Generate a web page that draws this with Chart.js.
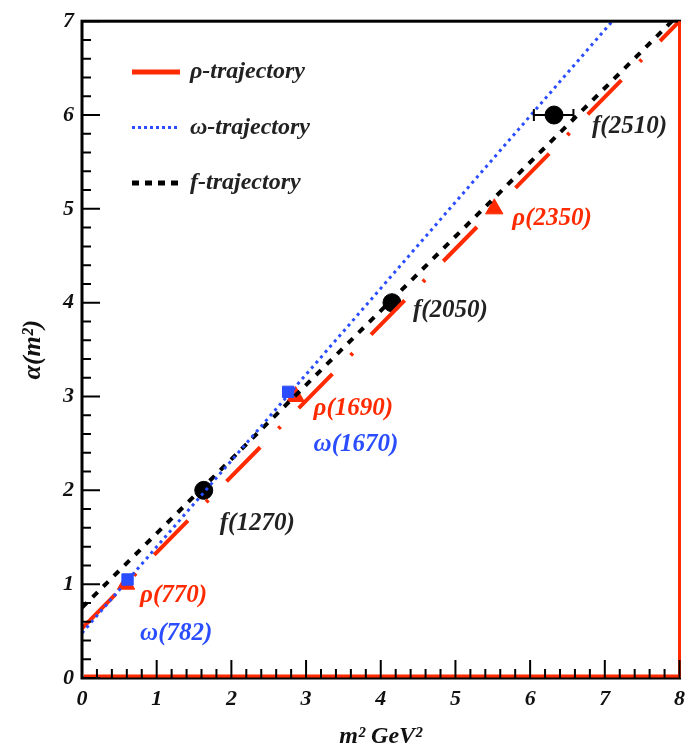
<!DOCTYPE html>
<html>
<head>
<meta charset="utf-8">
<script src="https://cdn.jsdelivr.net/npm/chart.js@4"></script>
<style>
  html,body{margin:0;padding:0;background:#fff;}
  #wrap{width:693px;height:753px;position:relative;}
</style>
</head>
<body>
<div id="wrap"><canvas id="regge" width="693" height="753"></canvas></div>
<script>
// Regge trajectories: alpha(m^2) vs m^2
const xTicks = [0,1,2,3,4,5,6,7,8];
const yTicks = [0,1,2,3,4,5,6,7];

// trajectory lines (end points)
const rhoLineX = [0, 8];
const rhoLineY = [0.53, 7.0];
const omegaLineX = [0, 7.1];
const omegaLineY = [0.48, 7.0];
const fLineX = [0, 7.9];
const fLineY = [0.75, 7.0];

// resonances
const rhoNames = ['ρ(770)', 'ρ(1690)', 'ρ(2350)'];
const rhoM2 = [0.59, 2.86, 5.52];
const rhoAlpha = [1, 3, 5];

const omegaNames = ['ω(782)', 'ω(1670)'];
const omegaM2 = [0.61, 2.76];
const omegaAlpha = [1.05, 3.05];

const fNames = ['f(1270)', 'f(2050)', 'f(2510)'];
const fM2 = [1.63, 4.15, 6.32];
const fAlpha = [2, 4, 6];
const fErrLo = [1.63, 4.15, 6.05];
const fErrHi = [1.63, 4.15, 6.58];

const legendLabels = ['ρ-trajectory', 'ω-trajectory', 'f-trajectory'];

const RED = '#ff2a00', BLUE = '#2a4dff', BLACK = '#000';
const serif = '"Liberation Serif", "DejaVu Serif", serif';

function pts(xs, ys){ return xs.map((x,i)=>({x:x, y:ys[i]})); }

// label offsets (pixels) from each marker
const labelPos = [
  {x:0.59, y:1, dx:14, dy:11, t:rhoNames[0], c:RED},
  {x:0.59, y:1, dx:14, dy:49, t:omegaNames[0], c:BLUE},
  {x:1.63, y:2, dx:16, dy:33, t:fNames[0], c:'#222'},
  {x:2.86, y:3, dx:18, dy:12, t:rhoNames[1], c:RED},
  {x:2.86, y:3, dx:18, dy:48, t:omegaNames[1], c:BLUE},
  {x:4.15, y:4, dx:21, dy:8, t:fNames[1], c:'#222'},
  {x:5.52, y:5, dx:18, dy:10, t:rhoNames[2], c:RED},
  {x:6.32, y:6, dx:38, dy:12, t:fNames[2], c:'#222'}
];

const framePlugin = {
  id:'frame',
  afterDatasetsDraw(chart){
    const {ctx, chartArea:a, scales:{x, y}} = chart;
    ctx.save();
    // error bars on f points
    ctx.strokeStyle = '#000'; ctx.lineWidth = 2;
    fM2.forEach((m,i)=>{
      if(fErrHi[i] - fErrLo[i] <= 0) return;
      const py = y.getPixelForValue(fAlpha[i]);
      const x0 = x.getPixelForValue(fErrLo[i]), x1 = x.getPixelForValue(fErrHi[i]);
      ctx.beginPath(); ctx.moveTo(x0, py); ctx.lineTo(x1, py);
      ctx.moveTo(x0, py-6); ctx.lineTo(x0, py+6);
      ctx.moveTo(x1, py-6); ctx.lineTo(x1, py+6);
      ctx.stroke();
    });
    // frame
    ctx.strokeStyle = '#000'; ctx.lineWidth = 3;
    ctx.strokeRect(a.left, a.top, a.right-a.left, a.bottom-a.top);
    ctx.strokeStyle = RED; ctx.lineWidth = 3;
    ctx.beginPath();
    ctx.moveTo(a.left+2, a.bottom-2); ctx.lineTo(a.right, a.bottom-2);
    ctx.moveTo(a.right, a.top); ctx.lineTo(a.right, a.bottom);
    ctx.stroke();
    // inner ticks
    ctx.strokeStyle = '#000'; ctx.lineWidth = 2;
    ctx.beginPath();
    for(let v=0; v<=8.001; v+=0.2){
      const px = x.getPixelForValue(v);
      const major = Math.abs(v-Math.round(v))<1e-6;
      ctx.moveTo(px, a.bottom); ctx.lineTo(px, a.bottom-(major?18:9));
    }
    for(let v=0; v<=7.001; v+=0.2){
      const py = y.getPixelForValue(v);
      const major = Math.abs(v-Math.round(v))<1e-6;
      ctx.moveTo(a.left, py); ctx.lineTo(a.left+(major?18:9), py);
    }
    ctx.stroke();
    // resonance labels
    ctx.font = 'italic bold 25px ' + serif;
    ctx.textBaseline = 'middle';
    labelPos.forEach(l=>{
      ctx.fillStyle = l.c;
      ctx.fillText(l.t, x.getPixelForValue(l.x)+l.dx, y.getPixelForValue(l.y)+l.dy);
    });
    // legend
    const styles = [
      {c:RED, w:5, d:[]},
      {c:BLUE, w:3, d:[3,3]},
      {c:BLACK, w:5, d:[7,6]}
    ];
    ctx.font = 'italic bold 24px ' + serif;
    legendLabels.forEach((t,i)=>{
      const ly = 72 + i*55.5;
      ctx.strokeStyle = styles[i].c; ctx.lineWidth = styles[i].w; ctx.setLineDash(styles[i].d);
      ctx.beginPath(); ctx.moveTo(132, ly); ctx.lineTo(180, ly); ctx.stroke();
      ctx.setLineDash([]);
      ctx.fillStyle = '#222';
      ctx.fillText(t, 190, ly);
    });
    ctx.restore();
  }
};

new Chart(document.getElementById('regge'), {
  type:'scatter',
  data:{
    datasets:[
      { type:'line', data:pts(omegaLineX, omegaLineY), borderColor:BLUE, borderWidth:3, borderDash:[3,4], pointRadius:0, fill:false },
      { type:'line', data:pts(rhoLineX, rhoLineY), borderColor:RED, borderWidth:4, borderDash:[48,26,3,26], pointRadius:0, fill:false },
      { type:'line', data:pts(fLineX, fLineY), borderColor:BLACK, borderWidth:4, borderDash:[7,8], pointRadius:0, fill:false },
      { data:pts(omegaM2, omegaAlpha), pointStyle:'rect', pointRadius:8, backgroundColor:BLUE, borderColor:BLUE },
      { data:pts(rhoM2, rhoAlpha), pointStyle:'triangle', pointRadius:10, backgroundColor:RED, borderColor:RED },
      { data:pts(fM2, fAlpha), pointStyle:'circle', pointRadius:9, backgroundColor:BLACK, borderColor:BLACK }
    ]
  },
  options:{
    responsive:false,
    animation:false,
    layout:{ padding:{ top:18, right:8, left:0, bottom:0 } },
    plugins:{ legend:{ display:false }, tooltip:{ enabled:false } },
    scales:{
      x:{
        type:'linear', min:0, max:8,
        afterBuildTicks(s){ s.ticks = xTicks.map(v=>({value:v})); },
        afterFit(s){ s.height = 75; },
        grid:{ display:false, drawTicks:false },
        border:{ display:false },
        ticks:{ padding:8, color:'#111', font:{ family:serif, size:22, style:'italic', weight:'bold' } },
        title:{ display:true, text:'m² GeV²', color:'#111', padding:{top:0, bottom:2}, font:{ family:serif, size:24, style:'italic', weight:'bold' } }
      },
      y:{
        type:'linear', min:0, max:7,
        afterBuildTicks(s){ s.ticks = yTicks.map(v=>({value:v})); },
        afterFit(s){ s.width = 82; },
        grid:{ display:false, drawTicks:false },
        border:{ display:false },
        ticks:{ padding:8, color:'#111', font:{ family:serif, size:22, style:'italic', weight:'bold' } },
        title:{ display:true, text:'α(m²)', color:'#111', padding:{top:18, bottom:0}, font:{ family:serif, size:26, style:'italic', weight:'bold' } }
      }
    }
  },
  plugins:[framePlugin]
});
</script>
</body>
</html>
